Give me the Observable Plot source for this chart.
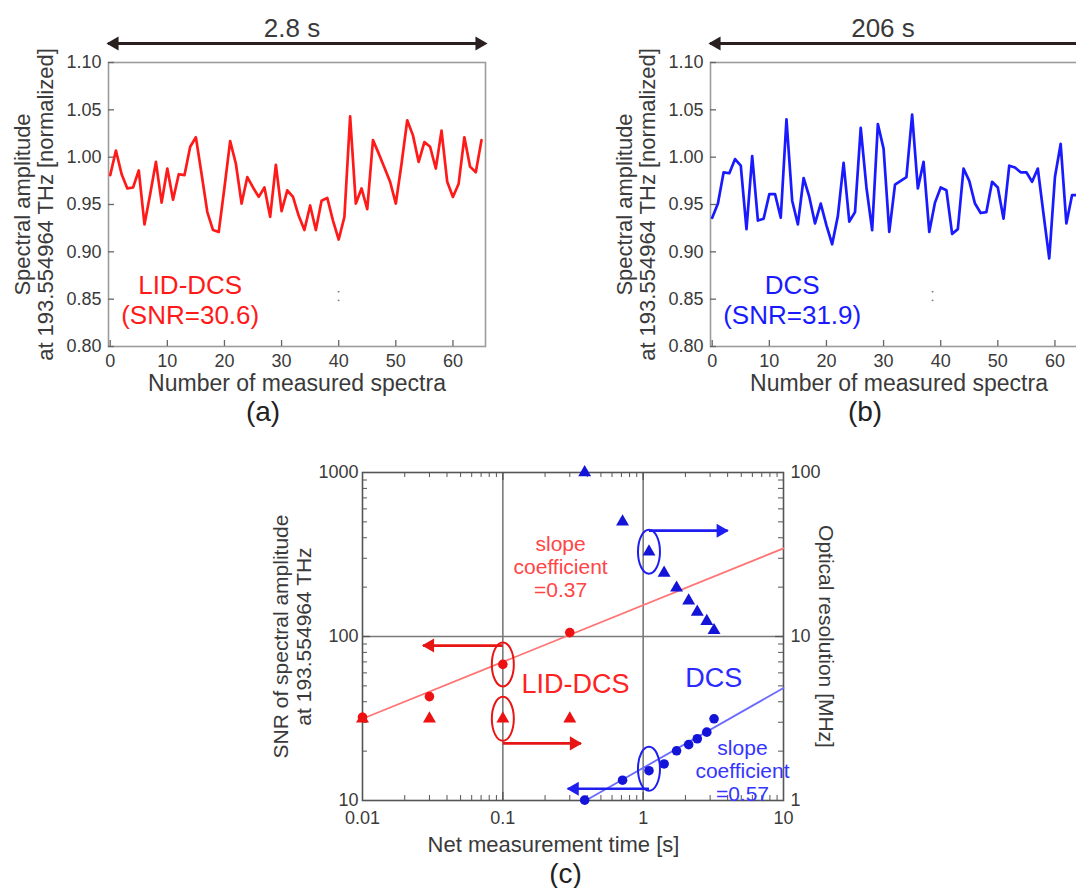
<!DOCTYPE html>
<html><head><meta charset="utf-8">
<script src="https://cdn.jsdelivr.net/npm/d3@7"></script>
<script src="https://cdn.jsdelivr.net/npm/@observablehq/plot@0.6"></script>
<style>
html,body{margin:0;padding:0;background:#fff;overflow:hidden;}
#root{position:relative;width:1076px;height:888px;overflow:hidden;background:#fff;}
#root svg{position:absolute;}
</style></head><body><div id="root"></div>
<script>
// ---------- DATA ----------
// Panel (a): LID-DCS normalized spectral amplitude, spectra 0..65
const lidDcsAmplitude = [0.981,1.007,0.982,0.967,0.968,0.986,0.929,0.961,0.995,0.952,0.988,0.955,0.982,0.981,1.011,1.021,0.982,0.942,0.923,0.921,0.968,1.017,0.993,0.951,0.979,0.968,0.958,0.968,0.937,0.992,0.943,0.965,0.958,0.938,0.923,0.949,0.923,0.954,0.957,0.933,0.913,0.937,1.043,0.951,0.967,0.945,1.018,1.004,0.989,0.974,0.951,0.993,1.039,1.023,0.995,1.016,1.011,0.988,1.028,0.974,0.958,0.972,1.021,0.990,0.984,1.018];
// Panel (b): DCS normalized spectral amplitude, spectra 0..64
const dcsAmplitude = [0.936,0.951,0.984,0.983,0.998,0.991,0.924,1.001,0.933,0.935,0.961,0.961,0.936,1.040,0.954,0.929,0.978,0.958,0.930,0.951,0.928,0.908,0.938,0.994,0.932,0.942,1.031,0.968,0.923,1.035,1.009,0.921,0.971,0.975,0.979,1.045,0.967,0.995,0.921,0.952,0.968,0.965,0.919,0.924,0.988,0.975,0.951,0.941,0.942,0.974,0.968,0.935,0.991,0.989,0.984,0.984,0.974,0.988,0.940,0.893,0.979,1.014,0.930,0.960,0.960];
const spectraTicks = [0,10,20,30,40,50,60];
const amplitudeTicks = [0.80,0.85,0.90,0.95,1.00,1.05,1.10];

// Panel (c)
const lidTime = [0.01, 0.03, 0.1, 0.3];
const lidSNR = [32.2, 43, 67.6, 105.6];
const lidResolution = [3.15, 3.15, 3.15, 3.15];       // MHz (right axis)
const dcsTime = [0.383, 0.713, 1.10, 1.41, 1.73, 2.11, 2.43, 2.84, 3.20];
const dcsSNR = [10.05, 13.3, 15.2, 16.7, 20.1, 21.9, 23.8, 26.1, 31.5];
const dcsResolution = [100, 50.1, 32.9, 24.4, 19.8, 16.5, 14.1, 12.4, 10.9]; // MHz
const lidFitTime = [0.01, 10], lidFitSNR = [31.5, 345];
const dcsFitTime = [0.39, 10], dcsFitSNR = [10, 48.5];
const timeTicks = [0.01, 0.1, 1, 10];
const timeMinor = [0.02,0.03,0.04,0.05,0.06,0.07,0.08,0.09,0.2,0.3,0.4,0.5,0.6,0.7,0.8,0.9,2,3,4,5,6,7,8,9];
const snrTicks = [10, 100, 1000];
const snrMinor = [20,30,40,50,60,70,80,90,200,300,400,500,600,700,800,900];
// annotations in (c): ellipses and arrows (y in SNR units; resolution = SNR/10)
const ellipseTime = [0.1, 0.1, 1.1, 1.1];
const ellipseLevel = [67.6, 31.5, 329, 15.6];
const ellipseSeries = ["LID", "LID", "DCS", "DCS"];
const arrowFrom = [0.1, 0.1, 1.1, 1.1];
const arrowTo = [0.027, 0.36, 4.0, 0.29];
const arrowLevel = [88, 22.3, 442, 11.8];
const arrowSeries = ["LID", "LID", "DCS", "DCS"];

// ---------- STYLE ----------
const FONT = '"Liberation Sans", Arial, Helvetica, sans-serif';
const TXT = "#3a3a3a";
const RED = "#ff1a1a", BLUE = "#1a1aff";

const root = document.getElementById("root");
function place(svg, left, top) {
  svg.style.left = left + "px"; svg.style.top = top + "px";
  root.appendChild(svg);
}
const T = {textAnchor: "middle", lineAnchor: "middle"};

// ---------- PANELS (a), (b) ----------
function spectrumPanel({values, color, span, spanDx, name, tag, labelX, labelY, speckX}) {
  const W = 500, H = 430, mL = 108, mT = 62, mR = 15, mB = 84;
  const fw = W - mL - mR, fh = H - mT - mB;
  const data = values.map((v, i) => ({i, v}));
  return Plot.plot({
    width: W, height: H, marginLeft: mL, marginTop: mT, marginRight: mR, marginBottom: mB,
    style: {fontFamily: FONT, fontSize: "18px", background: "transparent", overflow: "visible", color: TXT},
    x: {domain: [-0.3, 65.7]},
    y: {domain: [0.8, 1.1]},
    marks: [
      Plot.frame({stroke: "#9c9c9c", strokeWidth: 1.6}),
      Plot.tickX(spectraTicks, {x: d => d, insetTop: fh - 6, stroke: "#666", strokeWidth: 1.3}),
      Plot.tickY(amplitudeTicks, {y: d => d, insetRight: fw - 6, stroke: "#666", strokeWidth: 1.3}),
      Plot.axisX({ticks: spectraTicks, tickSize: 0, tickPadding: 8, fontSize: 18, fill: TXT, label: null}),
      Plot.axisY({ticks: amplitudeTicks, tickSize: 0, tickPadding: 7, fontSize: 18, fill: TXT, tickFormat: d => d.toFixed(2), label: null}),
      Plot.line(data, {x: "i", y: "v", stroke: color, strokeWidth: 2.7, strokeLinejoin: "round"}),
      Plot.text([name], {x: labelX, y: labelY, text: d => d, fill: color, fontSize: 26, lineHeight: 1.15, ...T}),
      Plot.text(["⁚"], {x: speckX, y: 0.853, text: d => d, fill: "#777", fontSize: 14, ...T}),
      // span arrow above the frame
      Plot.ruleY([1.1], {dy: -19, stroke: "#2a2020", strokeWidth: 3.2}),
      Plot.dot([0], {frameAnchor: "top-left", dy: -19, dx: 6, symbol: "triangle", rotate: -90, r: 5.2, fill: "#2a2020", stroke: "none"}),
      Plot.dot([0], {frameAnchor: "top-right", dy: -19, dx: -6, symbol: "triangle", rotate: 90, r: 5.2, fill: "#2a2020", stroke: "none"}),
      Plot.text([span], {frameAnchor: "top", dy: -34, dx: spanDx, text: d => d, fontSize: 26, fill: TXT, ...T}),
      // axis titles
      Plot.text(["Spectral amplitude\nat 193.554964 THz [normalized]"], {frameAnchor: "left", dx: -74.5, rotate: -90, text: d => d, fontSize: 22, lineHeight: 1.05, fill: TXT, ...T}),
      Plot.text(["Number of measured spectra"], {frameAnchor: "bottom", dy: 37, text: d => d, fontSize: 23, fill: TXT, ...T}),
      Plot.text([tag], {frameAnchor: "bottom", dy: 66, dx: -34, text: d => d, fontSize: 28, fill: "#222", ...T})
    ]
  });
}

place(spectrumPanel({values: lidDcsAmplitude, color: RED, span: "2.8 s", spanDx: -5, name: "LID-DCS\n(SNR=30.6)", tag: "(a)", labelX: 14, labelY: 0.85, speckX: 40}), 0, 0);
place(spectrumPanel({values: dcsAmplitude, color: BLUE, span: "206 s", spanDx: -16, name: "DCS\n(SNR=31.9)", tag: "(b)", labelX: 14, labelY: 0.85, speckX: 38.5}), 602, 0);

// ---------- PANEL (c) ----------
(function () {
  const W = 600, H = 448, mL = 112, mR = 67, mT = 32, mB = 88;
  const fw = W - mL - mR, fh = H - mT - mB;
  const lid = lidTime.map((t, i) => ({t, snr: lidSNR[i], res: lidResolution[i]}));
  const dcs = dcsTime.map((t, i) => ({t, snr: dcsSNR[i], res: dcsResolution[i]}));
  const lidFit = lidFitTime.map((t, i) => ({t, snr: lidFitSNR[i]}));
  const dcsFit = dcsFitTime.map((t, i) => ({t, snr: dcsFitSNR[i]}));
  const ellipses = ellipseTime.map((t, i) => ({t, y: ellipseLevel[i], s: ellipseSeries[i]}));
  const arrows = arrowFrom.map((f, i) => ({from: f, to: arrowTo[i], y: arrowLevel[i], s: arrowSeries[i]}));
  const col = s => s === "LID" ? "#e81515" : "#1e1ef0";
  const ellipse = aspect => ({
    draw(context, size) {
      const ry = Math.sqrt(size / Math.PI), rx = ry * aspect, k = 0.5523;
      context.moveTo(rx, 0);
      context.bezierCurveTo(rx, k * ry, k * rx, ry, 0, ry);
      context.bezierCurveTo(-k * rx, ry, -rx, k * ry, -rx, 0);
      context.bezierCurveTo(-rx, -k * ry, -k * rx, -ry, 0, -ry);
      context.bezierCurveTo(k * rx, -ry, rx, -k * ry, rx, 0);
      context.closePath();
    }
  });
  const svg = Plot.plot({
    width: W, height: H, marginLeft: mL, marginRight: mR, marginTop: mT, marginBottom: mB,
    style: {fontFamily: FONT, fontSize: "18px", background: "transparent", overflow: "visible", color: TXT},
    x: {type: "log", domain: [0.01, 10]},
    y: {type: "log", domain: [10, 1000]},
    marks: [
      Plot.ruleX([0.1, 1], {stroke: "#7a7a7a", strokeWidth: 1.6}),
      Plot.ruleY([100], {stroke: "#7a7a7a", strokeWidth: 1.6}),
      Plot.frame({stroke: "#555", strokeWidth: 1.6}),
      // inward minor/major ticks on four sides
      Plot.tickX(timeMinor, {x: d => d, insetTop: fh - 5, stroke: "#555"}),
      Plot.tickX(timeMinor, {x: d => d, insetBottom: fh - 5, stroke: "#555"}),
      Plot.tickX([0.1, 1], {x: d => d, insetTop: fh - 8, stroke: "#555", strokeWidth: 1.3}),
      Plot.tickX([0.1, 1], {x: d => d, insetBottom: fh - 8, stroke: "#555", strokeWidth: 1.3}),
      Plot.tickY(snrMinor, {y: d => d, insetRight: fw - 5, stroke: "#555"}),
      Plot.tickY(snrMinor, {y: d => d, insetLeft: fw - 5, stroke: "#555"}),
      Plot.tickY([100], {y: d => d, insetRight: fw - 8, stroke: "#555", strokeWidth: 1.3}),
      Plot.tickY([100], {y: d => d, insetLeft: fw - 8, stroke: "#555", strokeWidth: 1.3}),
      Plot.axisX({ticks: timeTicks, tickSize: 0, tickPadding: 11, fontSize: 18, fill: TXT, tickFormat: d => String(d), label: null}),
      Plot.axisY({ticks: snrTicks, anchor: "left", tickSize: 0, tickPadding: 4, fontSize: 18, fill: TXT, tickFormat: d => String(d), label: null}),
      Plot.axisY({ticks: snrTicks, anchor: "right", tickSize: 0, tickPadding: 7, fontSize: 18, fill: TXT, tickFormat: d => String(d / 10), label: null}),
      // fits
      Plot.line(lidFit, {x: "t", y: "snr", stroke: "#ff7474", strokeWidth: 1.8}),
      Plot.line(dcsFit, {x: "t", y: "snr", stroke: "#6a6aff", strokeWidth: 1.8}),
      // data
      Plot.dot(lid, {x: "t", y: "snr", r: 4.8, fill: "#ee1111", stroke: "none"}),
      Plot.dot(lid, {x: "t", y: d => d.res * 10, symbol: "triangle", r: 4.8, fill: "#ee1111", stroke: "none"}),
      Plot.dot(dcs, {x: "t", y: "snr", r: 4.8, fill: "#1414d8", stroke: "none"}),
      Plot.dot(dcs, {x: "t", y: d => d.res * 10, symbol: "triangle", r: 4.8, fill: "#1414d8", stroke: "none"}),
      // ellipses
      Plot.dot(ellipses, {x: "t", y: "y", r: 22, symbol: ellipse(0.5), fill: "none", stroke: d => col(d.s), strokeWidth: 2}),
      // arrows
      Plot.link(arrows, {x1: "from", x2: "to", y1: "y", y2: "y", stroke: d => col(d.s), strokeWidth: 2.6}),
      Plot.dot(arrows, {filter: d => d.to < d.from, x: "to", y: "y", symbol: "triangle", rotate: -90, r: 5.2, dx: 7, fill: d => col(d.s), stroke: "none"}),
      Plot.dot(arrows, {filter: d => d.to > d.from, x: "to", y: "y", symbol: "triangle", rotate: 90, r: 5.2, dx: -7, fill: d => col(d.s), stroke: "none"}),
      // labels in plot
      Plot.text(["slope\ncoefficient\n=0.37"], {x: 0.258, y: 267, text: d => d, fill: "#ff4545", fontSize: 21, lineHeight: 1.1, ...T}),
      Plot.text(["LID-DCS"], {x: 0.33, y: 51, text: d => d, fill: "#ff2222", fontSize: 27, ...T}),
      Plot.text(["DCS"], {x: 3.18, y: 55.5, text: d => d, fill: "#2a2aff", fontSize: 27, ...T}),
      Plot.text(["slope\ncoefficient\n=0.57"], {x: 5.1, y: 15.2, text: d => d, fill: "#3535ff", fontSize: 21, lineHeight: 1.1, ...T}),
      // axis titles
      Plot.text(["SNR of spectral amplitude\nat 193.554964 THz"], {frameAnchor: "left", dx: -70.5, rotate: -90, text: d => d, fontSize: 21, lineHeight: 1.1, fill: TXT, ...T}),
      Plot.text(["Optical resolution [MHz]"], {frameAnchor: "right", dx: 42, rotate: 90, text: d => d, fontSize: 21, fill: TXT, ...T}),
      Plot.text(["Net measurement time [s]"], {frameAnchor: "bottom", dy: 44, dx: -19.5, text: d => d, fontSize: 22, fill: TXT, ...T}),
      Plot.text(["(c)"], {frameAnchor: "bottom", dy: 74, dx: -7.5, text: d => d, fontSize: 28, fill: "#222", ...T})
    ]
  });
  place(svg, 250, 440);
})();
</script>
</body></html>
